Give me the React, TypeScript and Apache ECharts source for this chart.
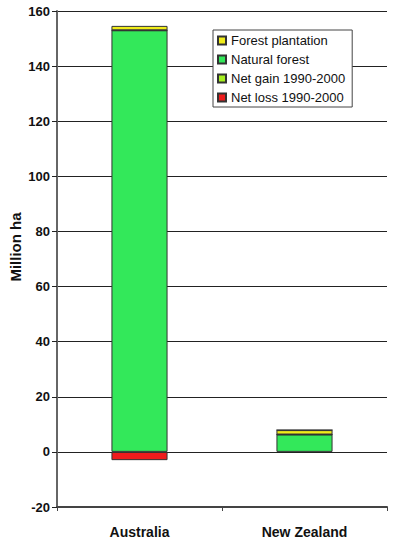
import React, { useEffect, useRef } from "react";
import * as echarts from "echarts";

const categories = ["Australia", "New Zealand"];
const naturalForest = [153.0, 6.3];
const netGain = [0, 0];
const forestPlantation = [1.6, 1.6];
const netLoss = [-3.0, 0];
const yTicks = { min: -20, max: 160, interval: 20 };
const legendOrder = ["Forest plantation", "Natural forest", "Net gain 1990-2000", "Net loss 1990-2000"];

export default function App() {
  const ref = useRef<HTMLDivElement>(null);
  useEffect(() => {
    if (!ref.current) return;
    const chart = echarts.init(ref.current, null, { renderer: "svg" });
    const font = "'Liberation Sans', Arial, sans-serif";
    const border = { borderColor: "#333", borderWidth: 1 };
    chart.setOption({
      animation: false,
      backgroundColor: "#fff",
      textStyle: { fontFamily: font },
      grid: { left: 57, right: 13, top: 11, bottom: 38 },
      legend: {
        orient: "vertical",
        left: 213,
        top: 30,
        data: legendOrder,
        icon: "rect",
        itemWidth: 8,
        itemHeight: 8,
        itemGap: 6,
        backgroundColor: "#fff",
        borderColor: "#444",
        borderWidth: 1,
        padding: [4, 7, 3, 4],
        textStyle: { fontSize: 13, color: "#111", fontFamily: font },
      },
      xAxis: {
        type: "category",
        data: categories,
        axisLine: { onZero: false, lineStyle: { color: "#444", width: 2 } },
        axisTick: { show: true, length: 4, lineStyle: { color: "#444" } },
        axisLabel: { fontSize: 14, fontWeight: "bold", color: "#111", margin: 18, fontFamily: font },
        splitLine: { show: false },
      },
      yAxis: {
        type: "value",
        min: yTicks.min,
        max: yTicks.max,
        interval: yTicks.interval,
        axisLine: { show: true, lineStyle: { color: "#666", width: 2 } },
        axisTick: { show: true, length: 5, lineStyle: { color: "#222" } },
        axisLabel: { fontSize: 13, fontWeight: "bold", color: "#111", margin: 7, fontFamily: font },
        splitLine: { show: true, lineStyle: { color: "#222", width: 1 } },
      },
      graphic: [
        {
          type: "text",
          x: 15,
          y: 247,
          rotation: Math.PI / 2,
          style: {
            text: "Million ha",
            fontSize: 15,
            fontWeight: "bold",
            fontFamily: font,
            fill: "#111",
            align: "center",
            verticalAlign: "middle",
          },
        },
      ],
      series: [
        { name: "Natural forest", type: "bar", stack: "t", barWidth: "34%", data: naturalForest, itemStyle: { color: "#33e85a", ...border } },
        { name: "Net gain 1990-2000", type: "bar", stack: "t", data: netGain, itemStyle: { color: "#a6f020", ...border } },
        { name: "Forest plantation", type: "bar", stack: "t", data: forestPlantation, itemStyle: { color: "#f0ec1a", ...border } },
        { name: "Net loss 1990-2000", type: "bar", stack: "t", data: netLoss, itemStyle: { color: "#ee1c1c", ...border } },
      ],
    });
    return () => chart.dispose();
  }, []);
  return <div ref={ref} style={{ width: 400, height: 545, position: "absolute", left: 0, top: 0 }} />;
}
